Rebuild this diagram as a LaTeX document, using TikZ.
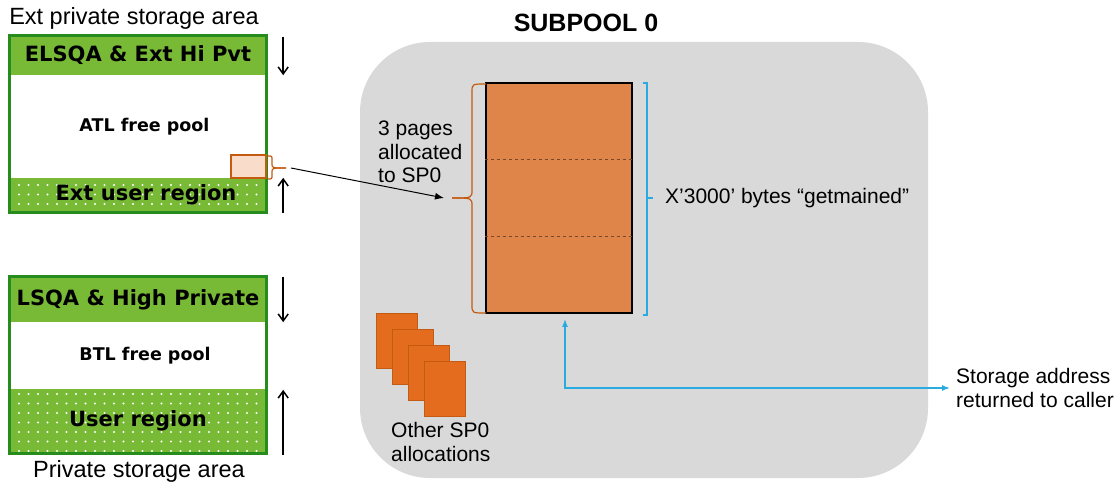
\documentclass[tikz,border=0pt]{standalone}
\usepackage{fontspec}
\setmainfont{Liberation Sans}
\newfontfamily\hdfont{DejaVu Sans}
\usetikzlibrary{arrows.meta, patterns.meta, calc}

\definecolor{grn}{RGB}{120,186,54}
\definecolor{grnline}{RGB}{38,140,30}
\definecolor{peach}{RGB}{249,220,202}
\definecolor{orng}{RGB}{197,90,17}
\definecolor{colfill}{RGB}{224,133,74}
\definecolor{pagefill}{RGB}{227,108,31}
\definecolor{poolgray}{RGB}{217,217,217}
\definecolor{skyblue}{RGB}{41,171,226}
\definecolor{dashbrown}{RGB}{120,70,40}

\begin{document}
\begin{tikzpicture}[x=1pt,y=-1pt]

\tikzset{band/.style = {minimum width=256pt, inner sep=0pt, font=\hdfont\bfseries\fontsize{21}{24}\selectfont}}
\tikzset{hiband/.style = {band, fill=grn}}
\tikzset{freeband/.style = {band, fill=white, font=\hdfont\bfseries\fontsize{17.5}{20}\selectfont}}
\tikzset{userband/.style = {band, preaction={fill=grn}, pattern={Dots[radius=1.1pt,distance=9.5pt]}, pattern color=white}}
\tikzset{frame/.style = {draw=grnline, line width=3pt}}
\tikzset{growth/.style = {line width=1.5pt, -{Straight Barb[length=7pt,width=10pt]}}}
\tikzset{caption/.style = {font=\fontsize{23.5}{26}\selectfont}}
\tikzset{note/.style = {font=\fontsize{21}{23.5}\selectfont, align=left, anchor=west, inner sep=0pt}}
\tikzset{page/.style = {draw=orng, fill=pagefill, minimum width=41pt, minimum height=55pt, line width=0.8pt}}
\tikzset{obrace/.style = {draw=orng, line width=1.2pt}}
\tikzset{bbrace/.style = {draw=skyblue, line width=1.5pt}}

\useasboundingbox (0,0) rectangle (1120,489);

%subpool
\node[fill=poolgray, rounded corners=70pt, minimum width=568pt, minimum height=436pt] (pool) at (644,260) {};
\node[font=\bfseries\fontsize{25}{28}\selectfont] (title) at (586,23) {SUBPOOL 0};

%ext private area
\node[caption] (extcap) at (134,18) {Ext private storage area};
\node[hiband, minimum height=39pt] (elsqa) at (138,55.5) {ELSQA \& Ext Hi Pvt};
\node[freeband, minimum height=103pt] (atl) at (138,126.5) {\hspace*{13pt}ATL free pool};
\node[userband, minimum height=34pt] (extuser) at (138,195) {\hspace*{16pt}Ext user region};
\draw[frame] (elsqa.north west) rectangle (extuser.south east);
\node[draw=orng, fill=peach, line width=1.2pt, minimum width=35pt, minimum height=23pt] (newpage) at (248.5,166.5) {};

%private area
\node[hiband, minimum height=45pt] (lsqa) at (138,299.5) {LSQA \& High Private};
\node[freeband, minimum height=67pt] (btl) at (138,355.5) {\hspace*{14pt}BTL free pool};
\node[userband, minimum height=64pt] (user) at (138,421) {User region};
\draw[frame] (lsqa.north west) rectangle (user.south east);
\node[caption] (privcap) at (139,471) {Private storage area};

%growth arrows
\draw[growth] ($(elsqa.north east)+(17,1)$) -- ($(elsqa.south east)+(17,0)$);
\draw[growth] ($(extuser.south east)+(17,1)$) -- ($(extuser.north east)+(17,0)$);
\draw[growth] ($(lsqa.north east)+(17,0)$) -- ($(lsqa.south east)+(17,0)$);
\draw[growth] ($(user.south east)+(17,2)$) -- ($(user.north east)+(17,1)$);

%getmained area
\node[draw=black, line width=1.8pt, fill=colfill, minimum width=146pt, minimum height=230pt] (col) at (559,198) {};
\foreach \f in {0.333,0.667}
  \draw[dashbrown, dashed, line width=0.8pt] ($(col.north west)!\f!(col.south west)$) -- ($(col.north east)!\f!(col.south east)$);

%braces
\draw[obrace] (268,156) .. controls (272,156) .. (272,160) -- (272,164) .. controls (272,168) .. (286,168);
\draw[obrace] (286,168) .. controls (272,168) .. (272,172) -- (272,175) .. controls (272,179) .. (268,179);
\draw[obrace] (486,84) .. controls (472,84) .. (472,92) -- (472,190) .. controls (472,198) .. (452,198);
\draw[obrace] (452,198) .. controls (472,198) .. (472,206) -- (472,305) .. controls (472,313) .. (486,313);
\draw[bbrace] (643,83) -- (647,83) -- (647,315) -- (643,315);
\draw[bbrace] (647,198) -- (653,198);

%labels
\node[note] (pages) at (378,152) {3 pages\\allocated\\to SP0};
\node[note] (bytes) at (665,198) {X’3000’ bytes “getmained”};
\node[note] (caller) at (956,388) {Storage address\\returned to caller};
\node[note] (others) at (391,442) {Other SP0\\allocations};

%other allocations
\foreach \i in {0,...,3}
  \node[page] (pg\i) at (396.5+16*\i, 340.5+16*\i) {};

%edges
\coordinate (smalltip) at (286,168);
\coordinate (bigtip) at (451,198);
\draw[line width=1pt, -{Latex[length=9pt,width=7pt]}] ($(smalltip)+(5,0)$) -- ($(bigtip)+(-7,0)$);
\draw[bbrace, {Latex[length=8pt,width=6pt]}-{Latex[length=8pt,width=6pt]}] ($(col.south)+(6,5)$) |- ($(caller.west)+(-6,0)$);

\end{tikzpicture}
\end{document}
